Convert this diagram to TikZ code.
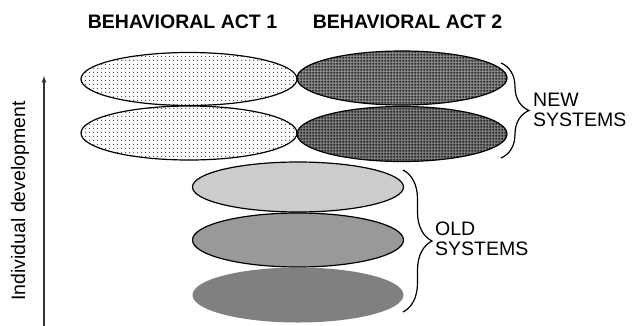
\documentclass[tikz,border=0pt]{standalone}
\usepackage{fontspec}
\setmainfont{Liberation Sans}
\usepackage{tikz}
\usetikzlibrary{shapes.geometric,patterns,decorations.pathreplacing}

\pgfdeclarepatternformonly{sparsedots}{\pgfpointorigin}{\pgfqpoint{4pt}{4pt}}{\pgfqpoint{4pt}{4pt}}
	{\pgfpathrectangle{\pgfqpoint{1.5pt}{1.5pt}}{\pgfqpoint{1.1pt}{1.1pt}}\pgfusepath{fill}}
\pgfdeclarepatternformonly{thingrid}{\pgfpointorigin}{\pgfqpoint{3pt}{3pt}}{\pgfqpoint{3pt}{3pt}}
	{\pgfsetlinewidth{0.55pt}
	\pgfpathmoveto{\pgfqpoint{0pt}{1.5pt}}\pgfpathlineto{\pgfqpoint{3pt}{1.5pt}}
	\pgfpathmoveto{\pgfqpoint{1.5pt}{0pt}}\pgfpathlineto{\pgfqpoint{1.5pt}{3pt}}
	\pgfusepath{stroke}}
\pgfdeclarepatternformonly{thickgrid}{\pgfpointorigin}{\pgfqpoint{3pt}{3pt}}{\pgfqpoint{3pt}{3pt}}
	{\pgfsetlinewidth{0.8pt}
	\pgfpathmoveto{\pgfqpoint{0pt}{1.5pt}}\pgfpathlineto{\pgfqpoint{3pt}{1.5pt}}
	\pgfpathmoveto{\pgfqpoint{1.5pt}{0pt}}\pgfpathlineto{\pgfqpoint{1.5pt}{3pt}}
	\pgfusepath{stroke}}

\tikzset{
	sysellipse/.style={ellipse,draw,line width=1.2pt,inner sep=0pt},
	actlabel/.style={font=\fontsize{19.5}{21}\selectfont\bfseries},
	syslabel/.style={font=\fontsize{19.5}{20.5}\selectfont,align=left,anchor=west,inner sep=0pt},
	sysbrace/.style={decorate,decoration={brace,amplitude=28pt},line width=1.2pt}
}

\begin{document}
\begin{tikzpicture}[x=1pt,y=-1pt]
\useasboundingbox (0,0) rectangle (634,325);

\node[actlabel] (act1) at (182.5,22) {BEHAVIORAL ACT 1};
\node[actlabel] (act2) at (407.5,22) {BEHAVIORAL ACT 2};

% old systems
\foreach \n/\y/\h/\c in {2/240/54/black!40, 1/187/50/black!20}
	{
	\node[sysellipse,fill=\c,minimum width=211pt,minimum height=\h pt] (old\n) at (298,\y) {};
	}
\node[ellipse,fill=black!50,inner sep=0pt,minimum width=211pt,minimum height=55pt] (old3) at (298,295) {};

% new systems
\node[sysellipse,minimum width=216pt,minimum height=54pt,pattern=sparsedots,pattern color=black!65] (new12) at (189,133) {};
\node[sysellipse,minimum width=210pt,minimum height=55pt,preaction={fill=black!50},pattern=thickgrid,pattern color=black] (new22) at (402,134) {};
\node[sysellipse,minimum width=216pt,minimum height=53pt,pattern=sparsedots,pattern color=black!65] (new11) at (189,79) {};
\node[sysellipse,minimum width=210pt,minimum height=54pt,preaction={fill=black!45},pattern=thingrid,pattern color=black] (new21) at (402,78) {};

% braces
\coordinate (newtop) at (501,63);
\coordinate (newbot) at (501,158);
\coordinate (oldtop) at (403,170);
\coordinate (oldbot) at (403,312);
\draw[sysbrace] (newtop) -- (newbot);
\draw[sysbrace,decoration={amplitude=29pt}] (oldtop) -- (oldbot);

\node[syslabel] (newlabel) at (533,110) {NEW\\SYSTEMS};
\node[syslabel] (oldlabel) at (435,239) {OLD\\SYSTEMS};

% development axis
\coordinate (axbot) at (44,327);
\coordinate (axtop) at (44,76);
\draw[-latex,line width=1.2pt,black!80] (axbot) -- (axtop);
\node[rotate=90,font=\fontsize{19.5}{21}\selectfont] (devlabel) at (20,201) {Individual development};

\end{tikzpicture}
\end{document}
